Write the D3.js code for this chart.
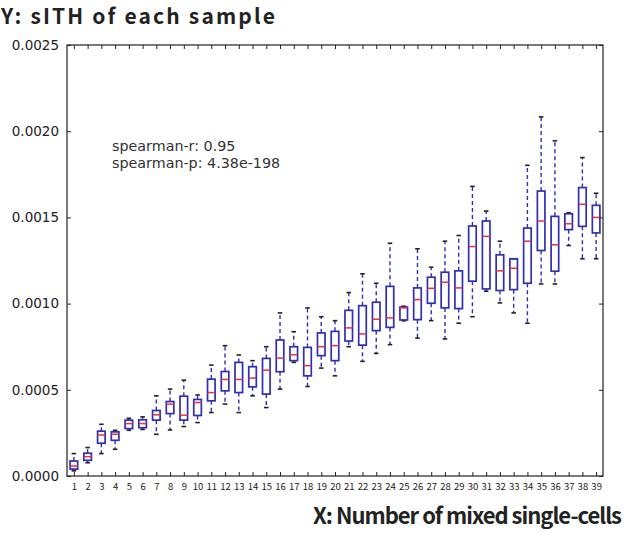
<!DOCTYPE html>
<html><head><meta charset="utf-8">
<script src="https://cdn.jsdelivr.net/npm/d3@7/dist/d3.min.js"></script>
<style>body{margin:0;background:#fff}</style>
</head><body><svg id="c" width="625" height="534"></svg>
<script>
const categories = d3.range(1, 40);
const whiskerLow = [0.00003,0.000077,0.00013,0.000155,0.000265,0.00027,0.000242,0.000267,0.000287,0.00031,0.000368,0.000417,0.000368,0.000465,0.000397,0.000504,0.000659,0.000519,0.000626,0.000581,0.00075,0.000665,0.000711,0.000762,0.0009,0.0008,0.000901,0.000795,0.000886,0.000924,0.001072,0.001004,0.000946,0.000886,0.001114,0.001114,0.001337,0.00126,0.00126];
const q1 = [0.00004,0.000091,0.00019,0.000207,0.000275,0.00028,0.000324,0.000362,0.000324,0.000351,0.000436,0.000494,0.000484,0.000517,0.000475,0.000605,0.000669,0.000581,0.000698,0.000669,0.000783,0.000759,0.000843,0.000862,0.000905,0.000907,0.001002,0.000975,0.000971,0.00113,0.001085,0.001076,0.001081,0.001118,0.001308,0.001188,0.001429,0.001448,0.00141];
const median = [0.000058,0.000112,0.000238,0.000242,0.000304,0.000304,0.000355,0.000417,0.000353,0.000426,0.000484,0.00056,0.00056,0.000568,0.000614,0.000684,0.000703,0.00064,0.00075,0.000756,0.000859,0.000824,0.000909,0.000917,0.000975,0.001023,0.001089,0.001124,0.001091,0.001331,0.00139,0.00119,0.001205,0.001362,0.001479,0.001341,0.001463,0.001576,0.0015];
const q3 = [0.000087,0.000132,0.00026,0.000256,0.000324,0.000326,0.00038,0.000432,0.000463,0.000444,0.000562,0.000606,0.000659,0.000634,0.000682,0.000789,0.00075,0.000746,0.00083,0.000839,0.000961,0.000988,0.001008,0.0011,0.00098,0.001091,0.001153,0.001182,0.00119,0.00145,0.001479,0.001283,0.00126,0.001438,0.001653,0.001506,0.001521,0.001673,0.00157];
const whiskerHigh = [0.00013,0.000165,0.0003,0.000265,0.000335,0.000343,0.000465,0.000504,0.000556,0.00047,0.000643,0.000756,0.000702,0.000669,0.00075,0.000946,0.000837,0.000975,0.000924,0.000901,0.001064,0.001173,0.001118,0.00135,0.000985,0.001318,0.001211,0.001362,0.001395,0.00168,0.001537,0.001362,0.00126,0.001802,0.002083,0.001944,0.001527,0.001847,0.00164];
const yTicks = [0, 0.0005, 0.001, 0.0015, 0.002, 0.0025];
const annotation = ["spearman-r: 0.95", "spearman-p: 4.38e-198"];

const svg = d3.select("#c");
const L = 67, R = 603, T = 45, B = 476;
const x = d3.scaleLinear().domain([0.5, 39.5]).range([L, R]);
const y = d3.scaleLinear().domain([0, 0.0025]).range([B, T]);
const bw = (x(1) - x(0)) * 0.55;
const cw = bw * 0.6;
const blue = "#2f2fb5";

const g = svg.append("g");
categories.forEach((c, i) => {
  const cx = x(c);
  g.append("line").attr("x1", cx).attr("x2", cx).attr("y1", y(q3[i])).attr("y2", y(whiskerHigh[i]))
    .attr("stroke", blue).attr("stroke-width", 1.4).attr("stroke-dasharray", "4,3");
  g.append("line").attr("x1", cx).attr("x2", cx).attr("y1", y(q1[i])).attr("y2", y(whiskerLow[i]))
    .attr("stroke", blue).attr("stroke-width", 1.4).attr("stroke-dasharray", "4,3");
  [whiskerHigh[i], whiskerLow[i]].forEach(v => {
    g.append("line").attr("x1", cx - cw/2).attr("x2", cx + cw/2).attr("y1", y(v)).attr("y2", y(v))
      .attr("stroke", "#222").attr("stroke-width", 1.6);
  });
  g.append("rect").attr("x", cx - bw/2).attr("width", bw).attr("y", y(q3[i])).attr("height", Math.max(1, y(q1[i]) - y(q3[i])))
    .attr("fill", "none").attr("stroke", blue).attr("stroke-width", 1.7);
  g.append("line").attr("x1", cx - bw/2).attr("x2", cx + bw/2).attr("y1", y(median[i])).attr("y2", y(median[i]))
    .attr("stroke", "#e8323c").attr("stroke-width", 1.5);
});

svg.append("rect").attr("x", L).attr("y", T).attr("width", R - L).attr("height", B - T)
  .attr("fill", "none").attr("stroke", "#222").attr("stroke-width", 1.2);

const yAxis = d3.axisLeft(y).tickValues(yTicks).tickFormat(d3.format(".4f")).tickSize(-4).tickPadding(8);
const ya = svg.append("g").attr("transform", `translate(${L},0)`).call(yAxis);
ya.select(".domain").remove();
ya.selectAll("text").attr("font-family", "DejaVu Sans, sans-serif").attr("font-size", 13.5).attr("fill", "#222");
ya.selectAll("line").attr("stroke", "#222");
const yr = svg.append("g").attr("transform", `translate(${R},0)`).call(d3.axisRight(y).tickValues(yTicks).tickSize(-4).tickFormat(""));
yr.select(".domain").remove(); yr.selectAll("line").attr("stroke", "#222");

const xAxis = d3.axisBottom(x).tickValues(categories).tickFormat(d3.format("d")).tickSize(-4).tickPadding(7);
const xa = svg.append("g").attr("transform", `translate(0,${B})`).call(xAxis);
xa.select(".domain").remove();
xa.selectAll("text").attr("font-family", "Noto Sans CJK KR, sans-serif").attr("font-size", 9.5).attr("fill", "#222");
xa.selectAll("line").attr("stroke", "#222");
const xt = svg.append("g").attr("transform", `translate(0,${T})`).call(d3.axisTop(x).tickValues(categories).tickSize(-4).tickFormat(""));
xt.select(".domain").remove(); xt.selectAll("line").attr("stroke", "#222");

annotation.forEach((t, i) => {
  svg.append("text").attr("x", 112).attr("y", 151 + i * 17).text(t)
    .attr("font-family", "DejaVu Sans, sans-serif").attr("font-size", 14.3).attr("fill", "#333");
});

svg.append("text").attr("x", 1).attr("y", 24).text("Y: sITH of each sample")
  .attr("font-family", "Noto Sans CJK KR, sans-serif").attr("font-weight", "bold").attr("font-size", 21)
  .attr("textLength", 274).attr("fill", "#222");
svg.append("text").attr("x", 622).attr("y", 524).attr("text-anchor", "end").text("X: Number of mixed single-cells")
  .attr("font-family", "Noto Sans CJK KR, sans-serif").attr("font-weight", "bold").attr("font-size", 22)
  .attr("textLength", 309).attr("fill", "#222");
</script></body></html>
